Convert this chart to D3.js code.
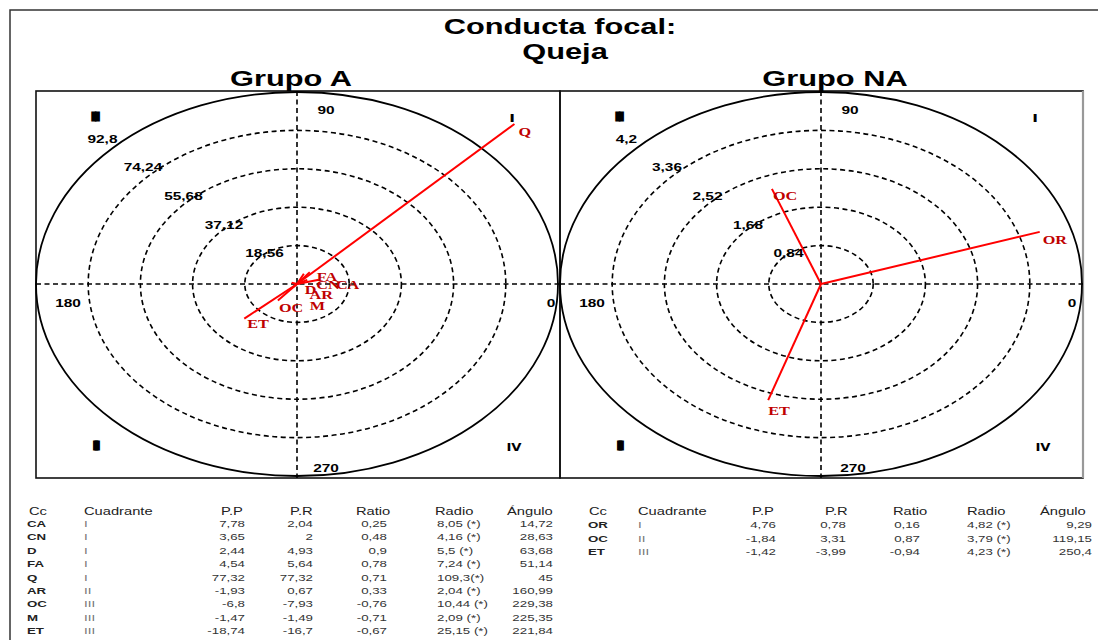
<!DOCTYPE html>
<html>
<head>
<meta charset="utf-8">
<script src="https://cdn.jsdelivr.net/npm/d3@7"></script>
<style>
  html, body { margin: 0; padding: 0; background: #fff; }
  svg { display: block; }
</style>
</head>
<body>
<svg id="chart" width="1098" height="640"></svg>
<script>
// ---------------- DATA ----------------
const titleLines = ["Conducta focal:", "Queja"];
const groupNames = ["Grupo A", "Grupo NA"];

// Grupo A
const aCodes     = ["CA", "CN", "D", "FA", "Q", "AR", "OC", "M", "ET"];
const aQuadrants = ["I", "I", "I", "I", "I", "II", "III", "III", "III"];
const aPP        = [7.78, 3.65, 2.44, 4.54, 77.32, -1.93, -6.8, -1.47, -18.74];
const aPR        = [2.04, 2, 4.93, 5.64, 77.32, 0.67, -7.93, -1.49, -16.7];
const aRatio     = [0.25, 0.48, 0.9, 0.78, 0.71, 0.33, -0.76, -0.71, -0.67];
const aRadio     = ["8,05 (*)", "4,16 (*)", "5,5 (*)", "7,24 (*)", "109,3(*)", "2,04 (*)", "10,44 (*)", "2,09 (*)", "25,15 (*)"];
const aAngle     = [14.72, 28.63, 63.68, 51.14, 45, 160.99, 229.38, 225.35, 221.84];
const aRingTicks = [18.56, 37.12, 55.68, 74.24, 92.8];

// Grupo NA
const naCodes     = ["OR", "OC", "ET"];
const naQuadrants = ["I", "II", "III"];
const naPP        = [4.76, -1.84, -1.42];
const naPR        = [0.78, 3.31, -3.99];
const naRatio     = [0.16, 0.87, -0.94];
const naRadio     = ["4,82 (*)", "3,79 (*)", "4,23 (*)"];
const naAngle     = [9.29, 119.15, 250.4];
// vector end points as drawn in the NA panel (chart units)
const naVecX      = [3.52, -0.79, -0.85];
const naVecY      = [1.14, 2.08, -2.54];
const naRingTicks = [0.84, 1.68, 2.52, 3.36, 4.2];

const tableHeaders = ["Cc", "Cuadrante", "P.P", "P.R", "Ratio", "Radio", "Ángulo"];

// ---------------- DRAW ----------------
(function () {
const SX = 1.4;   // horizontal stretch of the original picture
const svg = d3.select("#chart");
const fmt = v => String(v).replace(".", ",");

function txt(g, x, y, s, o = {}) {
  return g.append("text")
    .attr("transform", `translate(${x},${y}) scale(${o.sx || SX},1)`)
    .attr("text-anchor", o.anchor || "start")
    .attr("font-family", o.family || "'Liberation Sans', Arial, sans-serif")
    .attr("font-size", o.size || 11)
    .attr("font-weight", o.weight || "normal")
    .attr("letter-spacing", o.ls || null)
    .attr("stroke", o.stroke || null)
    .attr("stroke-width", o.sw || null)
    .attr("fill", o.fill || "#000")
    .text(s);
}

// outer frame
svg.append("rect").attr("x", 10).attr("y", 10).attr("width", 1100).attr("height", 700)
  .attr("fill", "none").attr("stroke", "#333").attr("stroke-width", 1.5);

// titles
txt(svg, 560, 34, titleLines[0], {anchor: "middle", size: 22, weight: "bold"});
txt(svg, 565, 59, titleLines[1], {anchor: "middle", size: 22, weight: "bold"});

const panels = [
  {name: groupNames[0], left: 36, right: 560, cx: 297, titleX: 291, max: 92.8, ticks: aRingTicks,
   codes: aCodes, vx: aPP, vy: aPR,
   offsets: {Q: [4, 7], ET: [3, 5], OC: [1, 7], M: [17, 18], D: [1, 16], AR: [18, 12], CA: [17, 5], CN: [9, 5], FA: [7, 4]}},
  {name: groupNames[1], left: 560, right: 1083, cx: 821, titleX: 835, max: 4.2, ticks: naRingTicks,
   codes: naCodes, vx: naVecX, vy: naVecY,
   offsets: {OR: [3, 8], OC: [1, 7], ET: [0, 10]}}
];
const pTop = 91, pBottom = 478, cy = 284, rx = 261, ry = 192;

panels.forEach((p, pi) => {
  const g = svg.append("g");
  const x = d3.scaleLinear().domain([-p.max, p.max]).range([p.cx - rx, p.cx + rx]);
  const y = d3.scaleLinear().domain([-p.max, p.max]).range([cy + ry, cy - ry]);

  // panel border
  g.append("rect").attr("x", p.left).attr("y", pTop).attr("width", p.right - p.left).attr("height", pBottom - pTop)
    .attr("fill", "none").attr("stroke", "#111").attr("stroke-width", 1.6);
  if (pi === 1) {
    g.append("line").attr("x1", p.right).attr("x2", p.right).attr("y1", pTop).attr("y2", pBottom)
      .attr("stroke", "#999").attr("stroke-width", 2.2);
  }

  // rings
  p.ticks.forEach((t, i) => {
    const last = i === p.ticks.length - 1;
    g.append("ellipse").attr("cx", x(0)).attr("cy", y(0))
      .attr("rx", x(t) - x(0)).attr("ry", y(0) - y(t))
      .attr("fill", "none").attr("stroke", "#000")
      .attr("stroke-width", last ? 1.8 : 1.6)
      .attr("stroke-dasharray", last ? null : "5,3.5");
  });

  // axes
  g.append("line").attr("x1", p.left).attr("x2", p.right).attr("y1", y(0)).attr("y2", y(0))
    .attr("stroke", "#000").attr("stroke-width", 1.6).attr("stroke-dasharray", "5,3.5");
  g.append("line").attr("x1", x(0)).attr("x2", x(0)).attr("y1", pTop).attr("y2", pBottom)
    .attr("stroke", "#000").attr("stroke-width", 1.6).attr("stroke-dasharray", "5,3.5");

  // ring labels
  p.ticks.forEach(t => {
    const lx = x(0) - 0.776 * (x(t) - x(0)) + 8;
    const ly = y(0) - 0.747 * (y(0) - y(t)) - 2 + 4;
    txt(g, lx, ly, fmt(t), {anchor: "middle", size: 11, weight: "bold"});
  });

  // angle labels
  const bold = {anchor: "middle", size: 11, weight: "bold"};
  txt(g, x(0) + 29, 114, "90", bold);
  txt(g, x(0) + (pi ? 32 : 29), 472, "270", bold);
  txt(g, p.left + 32, 307, "180", bold);
  txt(g, p.right - (pi ? 11 : 9), 307, "0", bold);

  // quadrant labels (rendered as heavy blocks like the original)
  const q = {anchor: "middle", size: 12, weight: "bold", family: "'DejaVu Sans', sans-serif", stroke: "#000", sw: 1.2};
  txt(g, p.left + 58, 121, "II", Object.assign({}, q, {ls: "-2.2", sx: 1.5}));
  txt(g, p.left + 59, 450, "III", Object.assign({}, q, {ls: "-2.8", sx: 1.05}));
  txt(g, p.right - 48, 122, "I", {anchor: "middle", size: 11, weight: "bold", family: "'DejaVu Sans', sans-serif"});
  txt(g, p.right - (pi ? 40 : 46), 451, "IV", {anchor: "middle", size: 11, weight: "bold", family: "'DejaVu Sans', sans-serif", sx: 1.2});

  // group title
  txt(svg, p.titleX, 86, p.name, {anchor: "middle", size: 22, weight: "bold"});

  // vectors
  p.codes.forEach((c, i) => {
    g.append("line").attr("x1", x(0)).attr("y1", y(0))
      .attr("x2", x(p.vx[i])).attr("y2", y(p.vy[i]))
      .attr("stroke", "#ff0000").attr("stroke-width", 2);
  });
  p.codes.forEach((c, i) => {
    const off = p.offsets[c] || [2, 7];
    txt(g, x(p.vx[i]) + off[0], y(p.vy[i]) + off[1] + 4.5, c,
      {size: 12.5, weight: "bold", family: "'Liberation Serif', 'Times New Roman', serif", fill: "#c00000", sx: 1.3});
  });
});

// ---------------- TABLES ----------------
function table(cols, hdrX, rows, y0, dy) {
  const g = svg.append("g");
  tableHeaders.forEach((h, i) => txt(g, hdrX[i], 515, h, {size: 10.5, fill: "#222"}));
  rows.codes.forEach((c, r) => {
    const yy = y0 + r * dy;
    const o = {size: 9.5, fill: "#333"};
    txt(g, cols[0], yy, c, {size: 9.5, weight: "bold", fill: "#222"});
    txt(g, cols[1], yy, rows.quad[r], {size: 9.5, fill: "#777"});
    txt(g, cols[2], yy, fmt(rows.pp[r]), Object.assign({anchor: "end"}, o));
    txt(g, cols[3], yy, fmt(rows.pr[r]), Object.assign({anchor: "end"}, o));
    txt(g, cols[4], yy, fmt(rows.ratio[r]), Object.assign({anchor: "end"}, o));
    txt(g, cols[5], yy, rows.radio[r], o);
    txt(g, cols[6], yy, fmt(rows.angle[r]), Object.assign({anchor: "end"}, o));
  });
}
table([27, 84, 245, 313, 387, 437, 553], [29, 84, 221, 290, 356, 435, 507],
  {codes: aCodes, quad: aQuadrants, pp: aPP, pr: aPR, ratio: aRatio, radio: aRadio, angle: aAngle}, 527, 13.4);
table([588, 638, 776, 846, 920, 967, 1092], [589, 638, 752, 825, 893, 967, 1040],
  {codes: naCodes, quad: naQuadrants, pp: naPP, pr: naPR, ratio: naRatio, radio: naRadio, angle: naAngle}, 528, 13.5);
})();
</script>
</body>
</html>
